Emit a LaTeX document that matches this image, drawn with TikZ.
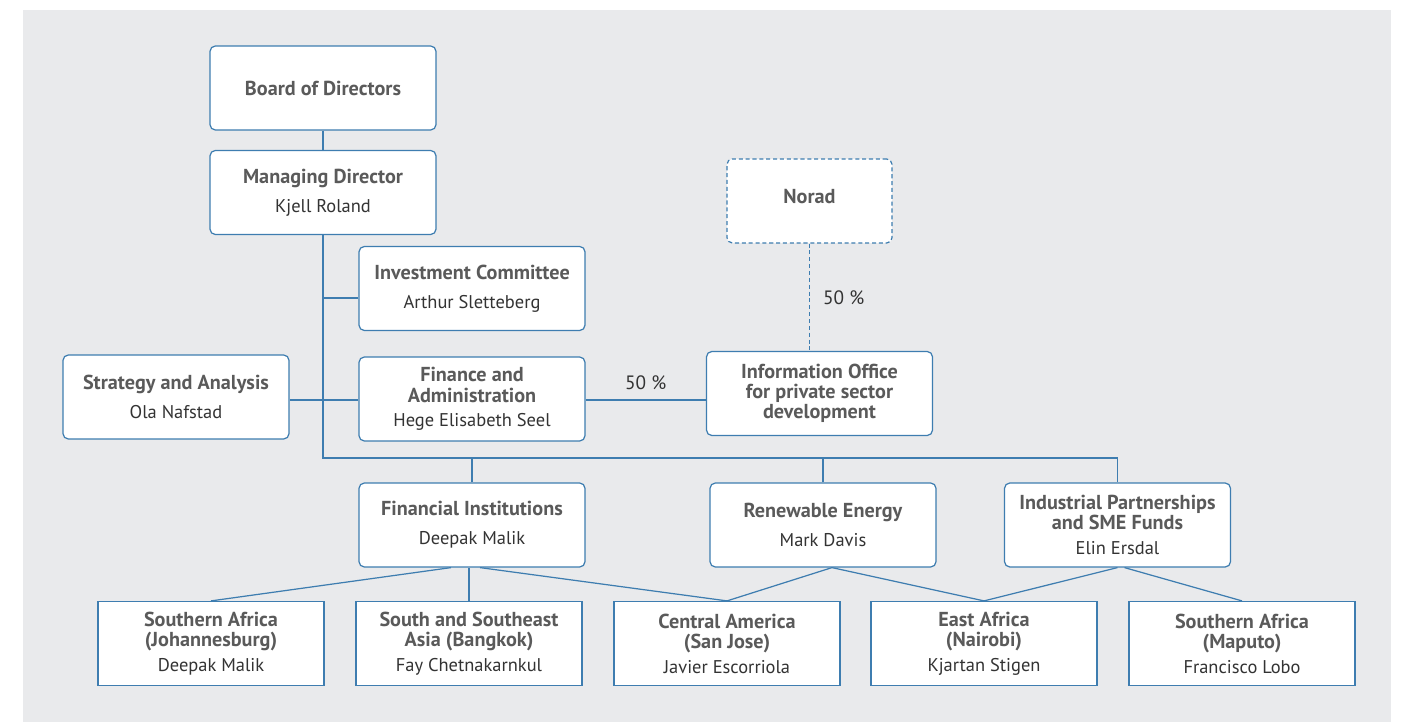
\documentclass[tikz,border=0pt]{standalone}
\usepackage{fontspec}
\setmainfont{PT Sans}
\usepackage{xcolor}
\usepackage{tikz}
\usetikzlibrary{positioning, calc}

\definecolor{orgline}{HTML}{3E7DB0}
\definecolor{orgbg}{HTML}{E9EAEC}
\definecolor{titlegray}{HTML}{5A5A5A}
\definecolor{namegray}{HTML}{333333}

\newcommand{\ttl}[1]{{\fontsize{11.5}{11.5}\selectfont\bfseries\color{titlegray}#1}}
\newcommand{\who}[1]{{\color{namegray}#1}}

\begin{document}
\begin{tikzpicture}[x=0.02cm, y=-0.02cm,
    unit/.style={draw=orgline, fill=white, rounded corners=3pt, line width=0.7pt,
      minimum width=4.52cm, minimum height=1.68cm, inner sep=0pt, align=center,
      font=\fontsize{10.5}{11.5}\selectfont},
    office/.style={unit, rounded corners=0pt},
    link/.style={draw=orgline, line width=0.7pt},
    share/.style={font=\fontsize{11}{12}\selectfont, text=namegray}]
          \useasboundingbox (0,0) rectangle (1402,722);
          \fill[orgbg] (23,10) rectangle (1391,722);

          \node[unit] (board) at (323,88) {\ttl{Board of Directors}};
          \node[unit] (md) at (323,192.5) {\ttl{Managing Director}\\[5pt]\who{Kjell Roland}};
          \node[unit] (ic) at (472,288.5) {\ttl{Investment Committee}\\[5pt]\who{Arthur Sletteberg}};
          \node[unit, dashed, dash pattern=on 2.3pt off 1.6pt, minimum width=3.3cm] (norad) at (809.5,201) {\raisebox{0.17cm}{\ttl{Norad}}};
          \node[unit] (sa) at (176,397) {\ttl{Strategy and Analysis}\\[5pt]\who{Ola Nafstad}};
          \node[unit] (fin) at (472,399) {\ttl{Finance and}\\\ttl{Administration}\\[2.5pt]\who{Hege Elisabeth Seel}};
          \node[unit] (info) at (819.5,393.5) {\ttl{Information Office}\\\ttl{for private sector}\\\ttl{development}};

          \node[unit] (fi) at (472,525) {\ttl{Financial Institutions}\\[5pt]\who{Deepak Malik}};
          \node[unit] (re) at (823,525) {\ttl{Renewable Energy}\\[5pt]\who{Mark Davis}};
          \node[unit] (ip) at (1117.5,525) {\ttl{Industrial Partnerships}\\\ttl{and SME Funds}\\[2.5pt]\who{Elin Ersdal}};

          \node[office] (joh) at (211,643.5) {\ttl{Southern Africa}\\\ttl{(Johannesburg)}\\[2.5pt]\who{Deepak Malik}};
          \node[office] (bkk) at (469,643.5) {\ttl{South and Southeast}\\\ttl{Asia (Bangkok)}\\[2.5pt]\who{Fay Chetnakarnkul}};
          \node[office] (sj) at (727,643.5) {\ttl{Central America}\\\ttl{(San Jose)}\\[2.5pt]\who{Javier Escorriola}};
          \node[office] (nbo) at (984,643.5) {\ttl{East Africa}\\\ttl{(Nairobi)}\\[2.5pt]\who{Kjartan Stigen}};
          \node[office] (mpm) at (1242,643.5) {\ttl{Southern Africa}\\\ttl{(Maputo)}\\[2.5pt]\who{Francisco Lobo}};

          \coordinate (bus) at (323,458);

          \draw[link] (board) -- (md);
          \draw[link] (md.south) -- (bus) -| (ip.north);
          \draw[link] (fi.north) -- (fi.north |- bus);
          \draw[link] (re.north) -- (re.north |- bus);
          \draw[link] ([yshift=-0.19cm]ic.west) -- ([yshift=-0.19cm]ic.west -| md.south);
          \draw[link] ([yshift=-0.06cm]sa.east) -- ([yshift=-0.06cm]sa.east -| fin.west);
          \draw[link] ([yshift=-0.06cm]sa.east -| fin.east) -- ([yshift=-0.06cm]sa.east -| info.west)
            node[midway, above=2pt, share] {50 \%};
          \draw[link, dashed, dash pattern=on 2.3pt off 1.6pt, line width=0.8pt] (norad.south) -- (norad.south |- info.north)
            node[midway, right=4pt, share] {50 \%};

          \draw[link] ([xshift=-0.42cm]fi.south) -- (joh.north);
          \draw[link] (bkk.north) -- (bkk.north |- fi.south);
          \draw[link] ([xshift=0.16cm]fi.south) -- (sj.north);
          \draw[link] ([xshift=0.18cm]re.south) -- (sj.north);
          \draw[link] ([xshift=0.18cm]re.south) -- (nbo.north);
          \draw[link] (ip.south) -- (nbo.north);
          \draw[link] ([xshift=0.14cm]ip.south) -- (mpm.north);
        \end{tikzpicture}
\end{document}
